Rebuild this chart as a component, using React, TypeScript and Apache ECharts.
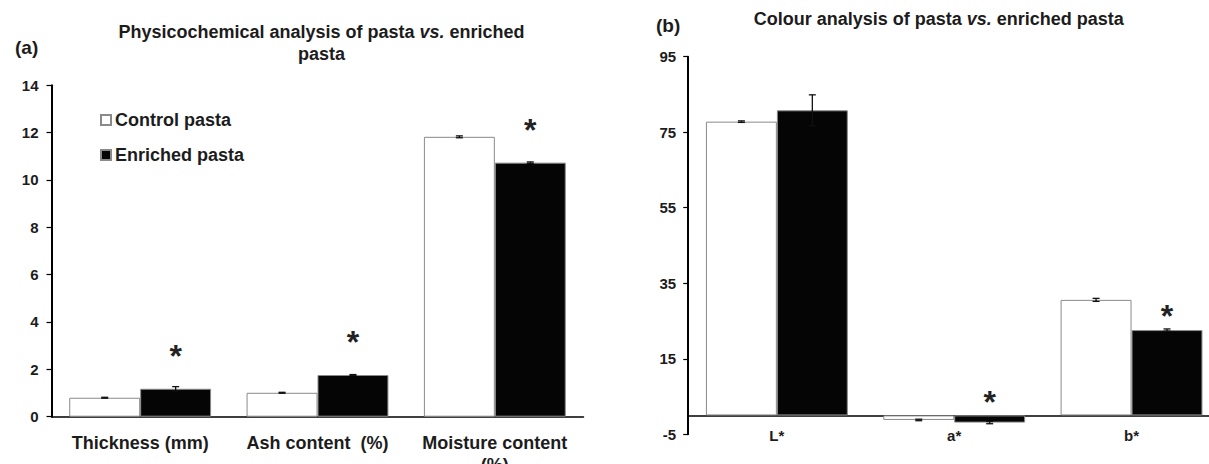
import React, { useEffect, useRef } from "react";
import * as echarts from "echarts";

// ---- Data ----
const leftCategories = ["Thickness (mm)", "Ash content  (%)", "Moisture content\n(%)"];
const leftControl = [0.8, 1.01, 11.82];
const leftControlErr = [0.02, 0.02, 0.04];
const leftEnriched = [1.18, 1.76, 10.73];
const leftEnrichedErr = [0.09, 0.02, 0.03];
const leftSignificant = [true, true, true];
const leftTicks = { min: 0, max: 14, interval: 2 };

const rightCategories = ["L*", "a*", "b*"];
const rightControl = [77.8, -1.2, 30.6];
const rightControlErr = [0.2, 0.2, 0.4];
const rightEnriched = [80.8, -1.9, 22.6];
const rightEnrichedErr = [4.1, 0.3, 0.3];
const rightSignificant = [false, true, true];
const rightTickValues = [-5, 15, 35, 55, 75, 95];

const seriesNames = ["Control pasta", "Enriched pasta"];
const leftTitle = ["Physicochemical analysis of pasta ", "vs.", " enriched", "pasta"];
const rightTitle = ["Colour analysis of pasta ", "vs.", " enriched pasta"];

const FONT = '"Liberation Sans", Arial, Helvetica, sans-serif';
const TXT = "#1c1c1c";
const STAR_SIZE = 32;

function errorSeries(values: number[], errs: number[], side: number, axisIdx: number) {
  return {
    type: "custom",
    xAxisIndex: axisIdx,
    yAxisIndex: axisIdx,
    z: 5,
    silent: true,
    encode: { x: 0, y: 1 },
    data: values.map((v, i) => [i, v, errs[i]]),
    renderItem: (params: any, api: any) => {
      const idx = api.value(0);
      const v = api.value(1);
      const e = api.value(2);
      const band = api.size([1, 0])[0];
      const barW = (band * 0.8) / 2;
      const cx = api.coord([idx, v])[0] + (side === 0 ? -barW / 2 : barW / 2);
      const yHi = api.coord([idx, v + e])[1];
      const yLo = api.coord([idx, v - e])[1];
      const half = 3.5;
      const st = { stroke: "#111", lineWidth: 1.3 };
      return {
        type: "group",
        children: [
          { type: "line", shape: { x1: cx, y1: yLo, x2: cx, y2: yHi }, style: st },
          { type: "line", shape: { x1: cx - half, y1: yHi, x2: cx + half, y2: yHi }, style: st },
          { type: "line", shape: { x1: cx - half, y1: yLo, x2: cx + half, y2: yLo }, style: st },
        ],
      };
    },
  };
}

function starSeries(values: number[], sig: boolean[], axisIdx: number, gap: number) {
  return {
    type: "custom",
    xAxisIndex: axisIdx,
    yAxisIndex: axisIdx,
    z: 6,
    silent: true,
    encode: { x: 0, y: 1 },
    data: values.map((v, i) => [i, v, sig[i] ? 1 : 0]),
    renderItem: (params: any, api: any) => {
      if (!api.value(2)) return { type: "group", children: [] };
      const idx = api.value(0);
      const v = api.value(1);
      const band = api.size([1, 0])[0];
      const barW = (band * 0.8) / 2;
      const p = api.coord([idx, Math.max(v, 0)]);
      return {
        type: "text",
        x: p[0] + barW / 2,
        y: p[1] - gap + STAR_SIZE * 0.23,
        style: {
          text: "*",
          fontSize: STAR_SIZE,
          fontWeight: "bold",
          fontFamily: FONT,
          fill: "#222",
          align: "center",
          verticalAlign: "middle",
        },
      };
    },
  };
}

function barSeries(name: string, values: number[], axisIdx: number, color: string) {
  return {
    type: "bar",
    name,
    xAxisIndex: axisIdx,
    yAxisIndex: axisIdx,
    data: values,
    barGap: "0%",
    barCategoryGap: "20%",
    itemStyle: { color, borderColor: "#8a8a8a", borderWidth: 1 },
    z: 2,
  };
}

function richTitle(size: number, lh: number) {
  const base = { fontSize: size, fontWeight: "bold", fontFamily: FONT, fill: TXT, lineHeight: lh };
  return { n: base, i: { ...base, fontStyle: "italic" } };
}

export default function App() {
  const ref = useRef<HTMLDivElement>(null);
  useEffect(() => {
    if (!ref.current) return;
    const chart = echarts.init(ref.current, undefined, { renderer: "svg" });
    const axisLabelStyle = { color: TXT, fontFamily: FONT, fontWeight: "bold" };
    const option: any = {
      animation: false,
      backgroundColor: "#fff",
      grid: [
        { left: 51.5, top: 85.2, width: 532, height: 331.5, outerBoundsMode: "none", containLabel: false },
        { left: 688.2, top: 56.7, width: 532, height: 377.6, outerBoundsMode: "none", containLabel: false },
      ],
      legend: {
        data: seriesNames,
        orient: "vertical",
        left: 95,
        top: 106,
        itemWidth: 10,
        itemHeight: 10,
        itemGap: 17,
        icon: "rect",
        textStyle: { fontSize: 18, fontWeight: "bold", fontFamily: FONT, color: TXT, padding: [0, 0, 0, -1] },
        selectedMode: false,
      },
      xAxis: [
        {
          type: "category",
          gridIndex: 0,
          data: leftCategories,
          axisLine: { lineStyle: { color: "#000", width: 1.5 } },
          axisTick: { show: false },
          axisLabel: { ...axisLabelStyle, fontSize: 18, margin: 15, lineHeight: 22, interval: 0 },
        },
        {
          type: "category",
          gridIndex: 1,
          data: rightCategories,
          axisLine: { onZero: true, lineStyle: { color: "#000", width: 1.5 } },
          axisTick: { show: false },
          axisLabel: { ...axisLabelStyle, fontSize: 15, margin: -6.5, interval: 0 },
        },
      ],
      yAxis: [
        {
          type: "value",
          gridIndex: 0,
          min: leftTicks.min,
          max: leftTicks.max,
          interval: leftTicks.interval,
          splitLine: { show: false },
          axisLine: { show: true, lineStyle: { color: "#000", width: 2 } },
          axisTick: { show: true, length: 5, lineStyle: { color: "#000", width: 1.2 } },
          axisLabel: { ...axisLabelStyle, fontSize: 15, margin: 13 },
        },
        {
          type: "value",
          gridIndex: 1,
          min: rightTickValues[0],
          max: rightTickValues[rightTickValues.length - 1],
          splitLine: { show: false },
          axisLine: { show: true, onZero: false, lineStyle: { color: "#000", width: 2 } },
          axisTick: { show: true, length: 5, customValues: rightTickValues, lineStyle: { color: "#000", width: 1.2 } },
          axisLabel: { ...axisLabelStyle, fontSize: 15, margin: 12, customValues: rightTickValues },
        },
      ],
      series: [
        barSeries(seriesNames[0], leftControl, 0, "#ffffff"),
        barSeries(seriesNames[1], leftEnriched, 0, "#050505"),
        barSeries(seriesNames[0], rightControl, 1, "#ffffff"),
        barSeries(seriesNames[1], rightEnriched, 1, "#050505"),
        errorSeries(leftControl, leftControlErr, 0, 0),
        errorSeries(leftEnriched, leftEnrichedErr, 1, 0),
        errorSeries(rightControl, rightControlErr, 0, 1),
        errorSeries(rightEnriched, rightEnrichedErr, 1, 1),
        starSeries(leftEnriched, leftSignificant, 0, 40),
        starSeries(rightEnriched, rightSignificant, 1, 21),
      ],
      graphic: [
        {
          type: "text",
          x: 321.5,
          y: 21,
          style: {
            text: `{n|${leftTitle[0]}}{i|${leftTitle[1]}}{n|${leftTitle[2]}}\n{n|${leftTitle[3]}}`,
            rich: richTitle(18, 22),
            align: "center",
            verticalAlign: "top",
          },
        },
        {
          type: "text",
          x: 938.8,
          y: 8,
          style: {
            text: `{n|${rightTitle[0]}}{i|${rightTitle[1]}}{n|${rightTitle[2]}}`,
            rich: richTitle(18, 22),
            align: "center",
            verticalAlign: "top",
          },
        },
        {
          type: "text",
          x: 15,
          y: 47,
          style: { text: "(a)", fontSize: 19, fontWeight: "bold", fontFamily: FONT, fill: TXT, verticalAlign: "middle" },
        },
        {
          type: "text",
          x: 656,
          y: 25,
          style: { text: "(b)", fontSize: 19, fontWeight: "bold", fontFamily: FONT, fill: TXT, verticalAlign: "middle" },
        },
      ],
    };
    chart.setOption(option);
    return () => chart.dispose();
  }, []);
  return (
    <div
      ref={ref}
      style={{ position: "fixed", left: 0, top: 0, width: "1209px", height: "464px", background: "#fff" }}
    />
  );
}
